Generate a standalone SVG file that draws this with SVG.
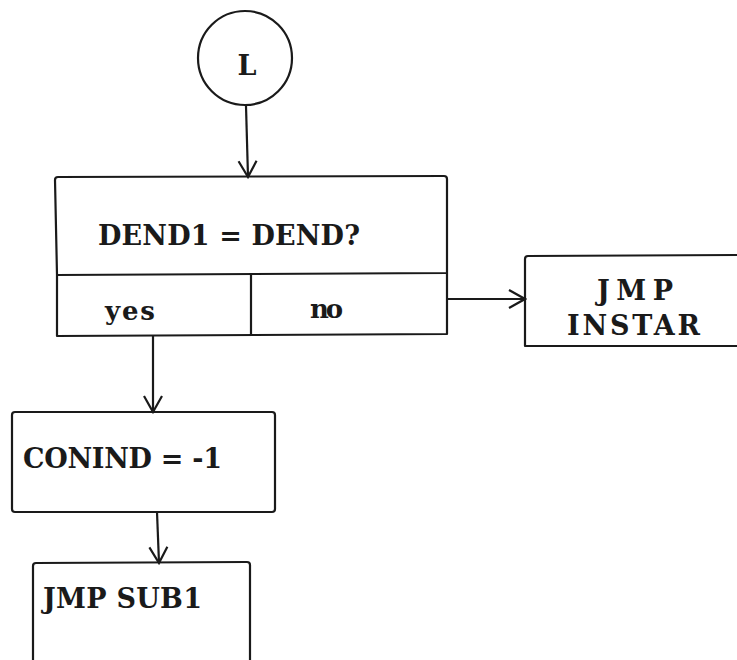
<svg xmlns="http://www.w3.org/2000/svg" width="737" height="660" viewBox="0 0 737 660">
<style>
.box{fill:none;stroke:#1a1a1a;stroke-width:2.2;stroke-linejoin:round}
.edge{fill:none;stroke:#1a1a1a;stroke-width:2.2}
text{font-family:"DejaVu Serif","Liberation Serif",serif;font-weight:bold;fill:#1a1a1a}
</style>
<defs>
<marker id="arr" markerUnits="userSpaceOnUse" markerWidth="22" markerHeight="22" viewBox="0 0 22 22" refX="20" refY="11" orient="auto">
<path d="M4,2 L20,11 L4,20" fill="none" stroke="#1a1a1a" stroke-width="2.2"/>
</marker>
</defs>
<rect width="737" height="660" fill="#ffffff"/>
<g id="node-L">
<circle cx="245" cy="58" r="47" class="box"/>
<text x="247" y="75" font-size="27" text-anchor="middle">L</text>
</g>
<g id="node-decision">
<path class="box" d="M57,275 L55,180 Q55,177 58,177 L444,176 Q447,176 447,179 L447,273 L57,275"/>
<text x="98" y="245" font-size="27" textLength="262" lengthAdjust="spacing">DEND1 = DEND?</text>
<path class="box" d="M57,275 L57,336 L447,334 L447,273 M251,275 L251,335"/>
<text x="105" y="320" font-size="26" textLength="50" lengthAdjust="spacing">yes</text>
<text x="310" y="318" font-size="26" textLength="33" lengthAdjust="spacing">no</text>
</g>
<g id="node-instar">
<path class="box" d="M740,255 L528,256 Q525,256 525,259 L525,346 L740,346"/>
<text x="597" y="300" font-size="27" textLength="76" lengthAdjust="spacing">JMP</text>
<text x="567" y="335" font-size="27" textLength="133" lengthAdjust="spacing">INSTAR</text>
</g>
<g id="node-conind">
<rect x="12" y="412" width="263" height="100" rx="3" class="box"/>
<text x="23" y="468" font-size="27" textLength="199" lengthAdjust="spacing">CONIND = -1</text>
</g>
<g id="node-sub1">
<path class="box" d="M33,665 L33,566 Q33,563 36,563 L247,562 Q250,562 250,565 L250,665"/>
<text x="43" y="608" font-size="27" textLength="159" lengthAdjust="spacing">JMP SUB1</text>
</g>
<g id="connectors">
<line class="edge" x1="246" y1="106" x2="248" y2="177" marker-end="url(#arr)"/>
<line class="edge" x1="153" y1="336" x2="153" y2="412" marker-end="url(#arr)"/>
<line class="edge" x1="157" y1="512" x2="159" y2="563" marker-end="url(#arr)"/>
<line class="edge" x1="447" y1="299" x2="525" y2="299" marker-end="url(#arr)"/>
</g>
</svg>
